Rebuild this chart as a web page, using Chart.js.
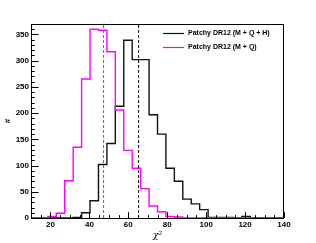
<!DOCTYPE html>
<html>
<head>
<meta charset="utf-8">
<script src="https://cdn.jsdelivr.net/npm/chart.js@4.4.1/dist/chart.umd.min.js"></script>
<style>
  html, body { margin: 0; padding: 0; background: #fff; }
</style>
</head>
<body>
<canvas id="chi2Chart" width="316" height="243"></canvas>
<script>
// bin edges of the chi2 histogram (30 bins from 10 to 140)
const binEdges = [10, 14.33, 18.67, 23, 27.33, 31.67, 36, 40.33, 44.67, 49, 53.33, 57.67, 62, 66.33, 70.67,
                  75, 79.33, 83.67, 88, 92.33, 96.67, 101, 105.33, 109.67, 114, 118.33, 122.67, 127, 131.33, 135.67, 140];
// counts per bin, Patchy DR12 (M + Q + H)
const countsMQH = [0, 0, 0, 0, 0, 1, 10, 33, 102, 142, 213, 339, 302, 302, 197,
                   160, 95, 70, 36, 27, 16, 1, 1, 1, 0, 3, 0, 0, 0, 0];
// counts per bin, Patchy DR12 (M + Q)
const countsMQ = [0, 0, 3, 9, 71, 135, 265, 360, 358, 317, 206, 129, 95, 56, 23,
                  12, 3, 2, 0, 0, 0, 0, 0, 0, 0, 0, 0, 0, 0, 0];
// means (dashed lines)
const meanMQH = 65.3;
const meanMQ = 47.3;

const legendLabels = ['Patchy DR12 (M + Q + H)', 'Patchy DR12 (M + Q)'];
const legendColors = ['#111111', '#ff00ff'];
const xTickLabels = [20, 40, 60, 80, 100, 120, 140];
const yTickLabels = [0, 50, 100, 150, 200, 250, 300, 350];
const xMin = 10, xMax = 140, yMax = 370;

// one point per left bin edge, plus the closing right edge
function toSteps(counts) {
    let pts = counts.map((c, i) => ({ x: binEdges[i], y: c }));
    pts.push({ x: binEdges[binEdges.length - 1], y: counts[counts.length - 1] });
    return pts;
}

// ROOT-like frame: box, inward ticks, legend in the top right corner
const rootFrame = {
    id: 'rootFrame',
    afterDraw(chart) {
        const ctx = chart.ctx;
        const a = chart.chartArea;
        const x = chart.scales.x, y = chart.scales.y;
        ctx.save();
        ctx.strokeStyle = '#000';
        ctx.lineWidth = 1;
        ctx.strokeRect(a.left + 0.5, a.top + 0.5, a.right - a.left - 1, a.bottom - a.top);

        ctx.beginPath();
        for (let v = xMin; v <= xMax; v += 5) {
            const px = Math.round(x.getPixelForValue(v)) + 0.5;
            const len = v % 20 === 0 ? 5.8 : 2.9;
            ctx.moveTo(px, a.bottom);
            ctx.lineTo(px, a.bottom - len);
        }
        for (let v = 0; v <= yMax; v += 10) {
            const py = Math.round(y.getPixelForValue(v)) + 0.5;
            const len = v % 50 === 0 ? 7.6 : 3.8;
            ctx.moveTo(a.left, py);
            ctx.lineTo(a.left + len, py);
        }
        ctx.stroke();

        ctx.font = 'bold 7px "Liberation Sans"';
        ctx.textBaseline = 'middle';
        ctx.fillStyle = '#000';
        legendLabels.forEach((label, i) => {
            const ly = 33.5 + i * 14;
            ctx.strokeStyle = legendColors[i];
            ctx.lineWidth = 1.2;
            ctx.beginPath();
            ctx.moveTo(163, ly);
            ctx.lineTo(184, ly);
            ctx.stroke();
            ctx.fillText(label, 188, ly);
        });
        ctx.restore();
    }
};

new Chart(document.getElementById('chi2Chart'), {
    type: 'line',
    data: {
        datasets: [
            {
                label: legendLabels[0],
                data: toSteps(countsMQH),
                stepped: 'before',
                borderColor: legendColors[0],
                borderWidth: 1.4,
                pointRadius: 0,
                fill: false,
                order: 3
            },
            {
                label: legendLabels[1],
                data: toSteps(countsMQ),
                stepped: 'before',
                borderColor: legendColors[1],
                borderWidth: 1.4,
                pointRadius: 0,
                fill: false,
                order: 2
            },
            {
                label: 'mean (M + Q + H)',
                data: [{ x: meanMQH, y: 0 }, { x: meanMQH, y: yMax }],
                borderColor: '#000',
                borderDash: [3, 2],
                borderWidth: 1,
                pointRadius: 0,
                order: 1
            },
            {
                label: 'mean (M + Q)',
                data: [{ x: meanMQ, y: 0 }, { x: meanMQ, y: yMax }],
                borderColor: '#ff00ff',
                borderDash: [3, 2],
                borderWidth: 1,
                pointRadius: 0,
                order: 1
            }
        ]
    },
    options: {
        responsive: false,
        animation: false,
        layout: { padding: { top: 24, right: 32 } },
        plugins: {
            legend: { display: false },
            tooltip: { enabled: false }
        },
        scales: {
            x: {
                type: 'linear',
                min: xMin,
                max: xMax,
                afterBuildTicks: s => { s.ticks = xTickLabels.map(v => ({ value: v })); },
                afterFit: s => { s.height = 25; },
                ticks: {
                    color: '#000',
                    padding: 2,
                    maxRotation: 0,
                    font: { family: 'Liberation Sans', size: 8, weight: 'bold' }
                },
                grid: { display: false, drawTicks: false },
                border: { display: false },
                title: {
                    display: true,
                    text: 'χ²',
                    color: '#000',
                    padding: { top: 0, bottom: 2 },
                    font: { family: 'DejaVu Serif', size: 9, style: 'italic' }
                }
            },
            y: {
                min: 0,
                max: yMax,
                afterBuildTicks: s => { s.ticks = yTickLabels.map(v => ({ value: v })); },
                afterFit: s => { s.width = 31; },
                ticks: {
                    color: '#000',
                    padding: 2,
                    font: { family: 'Liberation Sans', size: 8, weight: 'bold' }
                },
                grid: { display: false, drawTicks: false },
                border: { display: false },
                title: {
                    display: true,
                    text: '#',
                    color: '#000',
                    padding: { top: 3, bottom: 0 },
                    font: { family: 'Liberation Sans', size: 8, weight: 'bold' }
                }
            }
        }
    },
    plugins: [rootFrame]
});
</script>
</body>
</html>
